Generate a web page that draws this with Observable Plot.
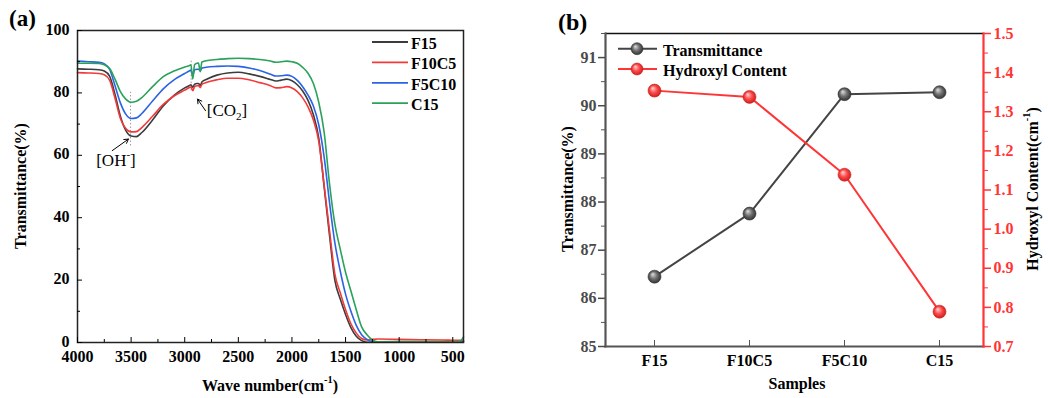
<!DOCTYPE html>
<html><head><meta charset="utf-8">
<script src="https://cdn.jsdelivr.net/npm/d3@7"></script>
<script src="https://cdn.jsdelivr.net/npm/@observablehq/plot@0.6"></script>
<style>
body{margin:0;background:#fff;}
#wrap{position:relative;width:1048px;height:398px;overflow:hidden;font-family:"Liberation Serif","Times New Roman",serif;}
#a,#b{position:absolute;top:0;}
#a{left:0px} #b{left:520px}
</style></head><body><div id="wrap"><div id="a"></div><div id="b"></div></div>
<script>
// ---------- Panel (a) data: FTIR spectra ----------
const seriesNames = ["F15", "F10C5", "F5C10", "C15"];
const seriesColors = ["#3c3c3c", "#f23a3a", "#2a63e6", "#2ba25a"];
const wavenumbers = [4000,3900,3800,3750,3700,3650,3600,3550,3500,3450,3400,3300,3200,3100,3000,2955,2942,2925,2908,2885,2872,2855,2840,2800,2700,2600,2500,2400,2300,2200,2150,2100,2050,2000,1950,1900,1850,1800,1750,1700,1650,1600,1550,1500,1450,1400,1350,1300,1250,1200,1000,800,600,450,420,400];
const tF15   = [87.7,87.6,87.4,87.0,85.3,79.5,72.5,68.0,66.2,66.0,67.3,71.3,75.8,79.2,81.6,82.4,82.6,81.8,82.8,83.0,83.0,82.4,83.5,84.3,85.7,86.4,86.6,86.1,85.3,84.3,83.8,84.1,84.4,83.9,82.6,80.6,77.6,73.0,65.5,50.0,34.5,20.0,14.0,9.0,4.8,2.0,0.6,0.1,0.1,0.2,0.3,0.3,0.3,0.3,0.3,0.3];
const tF10C5 = [86.5,86.4,86.2,85.8,84.0,78.3,71.8,68.6,67.5,67.6,68.9,72.5,76.3,79.0,80.9,81.7,81.9,80.7,82.0,82.3,82.3,81.7,82.7,83.3,84.2,84.7,84.7,84.2,83.3,82.3,81.6,81.7,82.0,81.6,80.4,78.4,75.5,71.3,64.5,50.5,36.0,22.0,16.0,10.5,6.0,3.0,1.3,0.8,1.0,1.1,1.0,0.9,0.8,0.7,0.7,0.7];
const tF5C10 = [90.2,90.0,89.8,89.3,87.5,82.3,76.8,73.2,71.8,72.0,73.4,77.4,81.3,84.2,86.2,87.1,87.3,85.6,87.4,87.6,87.6,87.1,87.9,88.2,88.5,88.6,88.5,88.0,87.2,86.0,85.4,85.5,85.7,85.3,84.0,82.0,79.3,75.8,69.8,59.5,45.0,32.0,23.0,15.5,10.0,5.5,2.5,1.0,0.3,0.2,0.2,0.2,0.2,0.2,0.2,0.2];
const tC15   = [89.5,89.5,89.4,89.0,87.8,84.4,80.4,78.0,77.0,77.3,78.5,82.0,85.2,87.0,88.3,88.8,89.0,84.5,89.0,89.5,89.6,86.8,89.9,90.3,90.7,91.0,91.1,91.0,90.7,90.2,89.8,90.0,90.2,90.0,89.5,88.2,86.3,83.0,77.0,67.5,51.0,38.0,30.0,22.5,16.5,10.5,5.0,2.5,0.8,0.2,0.2,0.2,0.2,0.3,0.8,1.8];
const xMajor = [4000,3500,3000,2500,2000,1500,1000,500];
const xMinor = [3750,3250,2750,2250,1750,1250,750];
const yMajor = [0,20,40,60,80,100];
const yMinor = [10,30,50,70,90];
// annotation anchors (data units)
const guideLines = [{x: 3505, y1: 63, y2: 80.2}, {x: 2940, y1: 80.7, y2: 90.4}];
const arrows = [{x1: 3676, y1: 61.5, x2: 3525, y2: 65.2}, {x1: 2806, y1: 74.3, x2: 2880, y2: 78.0}];

// ---------- Panel (b) data ----------
const samples = ["F15", "F10C5", "F5C10", "C15"];
const transmittance = [86.45, 87.76, 90.24, 90.28];
const hydroxyl = [1.354, 1.338, 1.139, 0.789];
const leftTicks = [85, 86, 87, 88, 89, 90, 91];
const leftMinor = [85.5, 86.5, 87.5, 88.5, 89.5, 90.5, 91.5];
const rightTicks = [0.7, 0.8, 0.9, 1.0, 1.1, 1.2, 1.3, 1.4, 1.5];
const rightMinor = [0.75, 0.85, 0.95, 1.05, 1.15, 1.25, 1.35, 1.45];

const FONT = "Liberation Serif, Times New Roman, serif";
const series = [tF15, tF10C5, tF5C10, tC15];
const spectra = [];
seriesNames.forEach((s, k) => wavenumbers.forEach((w, i) => spectra.push({s, w, T: series[k][i]})));

const plotA = Plot.plot({
  width: 520, height: 398,
  marginLeft: 77, marginRight: 57, marginTop: 30, marginBottom: 56,
  style: {fontFamily: FONT, fontSize: "16px", fontWeight: "bold", color: "#000", background: "none"},
  x: {domain: [4000, 400]},
  y: {domain: [0, 100]},
  color: {domain: seriesNames, range: seriesColors},
  marks: [
    Plot.ruleX(guideLines, {x: "x", y1: "y1", y2: "y2", stroke: "#999", strokeWidth: 1, strokeDasharray: "1.5,2"}),
    Plot.line(spectra, {x: "w", y: "T", z: "s", stroke: "s", strokeWidth: 1.6, curve: "monotone-x"}),
    Plot.arrow(arrows, {x1: "x1", y1: "y1", x2: "x2", y2: "y2", stroke: "#000", strokeWidth: 1, headLength: 7}),
    Plot.frame({stroke: "#222", strokeWidth: 1.5}),
    Plot.axisX({ticks: xMajor, tickSize: 5, dy: -5, tickFormat: () => "", label: null}),
    Plot.axisX({ticks: xMinor, tickSize: 3, dy: -3, tickFormat: () => "", label: null}),
    Plot.axisX({ticks: xMajor, tickSize: 0, tickPadding: 8, tickFormat: d3.format("d"), label: null}),
    Plot.axisY({ticks: yMajor, tickSize: 5, dx: 5, tickFormat: () => "", label: null}),
    Plot.axisY({ticks: yMinor, tickSize: 3, dx: 3, tickFormat: () => "", label: null}),
    Plot.axisY({ticks: yMajor, tickSize: 0, tickPadding: 8, dy: -1, tickFormat: d3.format("d"), label: null})
  ]
});
document.getElementById("a").appendChild(plotA);

function txt(svg, x, y, parts, o = {}) {
  const t = d3.select(svg).append("text")
    .attr("x", x).attr("y", y)
    .attr("font-family", FONT).attr("font-weight", "bold")
    .attr("font-size", o.size || 16).attr("fill", o.fill || "#000")
    .attr("text-anchor", o.anchor || "start")
    .attr("dominant-baseline", "central");
  if (o.rotate) t.attr("transform", `rotate(${o.rotate},${x},${y})`);
  if (o.normal) t.attr("font-weight", "normal");
  parts.forEach(p => {
    if (typeof p === "string") t.append("tspan").text(p);
    else {
      const ts = t.append("tspan").text(p.t).attr("font-size", (o.size || 16) * 0.65);
      ts.attr("baseline-shift", p.sup ? "super" : "sub");
    }
  });
  return t;
}

const svgA = plotA.tagName.toLowerCase() === "svg" ? plotA : plotA.querySelector("svg");
txt(svgA, 9, 18, ["(a)"], {size: 23});
txt(svgA, 20, 186, ["Transmittance(%)"], {anchor: "middle", rotate: -90});
txt(svgA, 270, 385, ["Wave number(cm", {t: "-1", sup: true}, ")"], {anchor: "middle"});
txt(svgA, 116, 160, ["[OH", {t: "-", sup: true}, "]"], {anchor: "middle", normal: true, size: 17});
txt(svgA, 227, 110, ["[CO", {t: "2", sup: false}, "]"], {anchor: "middle", normal: true, size: 17});
// legend (a)
seriesNames.forEach((s, i) => {
  const y = 42 + i * 20.4;
  d3.select(svgA).append("line").attr("x1", 372).attr("x2", 408).attr("y1", y).attr("y2", y)
    .attr("stroke", seriesColors[i]).attr("stroke-width", 1.8);
  txt(svgA, 411, y + 1, [s]);
});

// ---------- Panel (b) ----------
const toLeft = d3.scaleLinear([0.7, 1.5], [85, 91.5]);
const rows = samples.map((s, i) => ({s, t: transmittance[i], h: toLeft(hydroxyl[i])}));
const RED = "#ff3535";
const plotB = Plot.plot({
  width: 528, height: 398,
  marginLeft: 85, marginRight: 65, marginTop: 33, marginBottom: 52,
  style: {fontFamily: FONT, fontSize: "16px", fontWeight: "bold", color: "#000", background: "none"},
  x: {type: "point", domain: samples, padding: 0.5, insetRight: -5},
  y: {domain: [85, 91.5]},
  marks: [
    Plot.line(rows, {x: "s", y: "t", stroke: "#444", strokeWidth: 2}),
    Plot.line(rows, {x: "s", y: "h", stroke: RED, strokeWidth: 2}),
    Plot.dot(rows, {x: "s", y: "t", r: 6.5, fill: "url(#sphG)", stroke: "#333", strokeWidth: 0.6}),
    Plot.dot(rows, {x: "s", y: "h", r: 6.5, fill: "url(#sphR)", stroke: "#d02020", strokeWidth: 0.6}),
    Plot.frame({anchor: "top", stroke: "#111", strokeWidth: 1.5}),
    Plot.frame({anchor: "left", stroke: "#555", strokeWidth: 2.2}),
    Plot.frame({anchor: "bottom", stroke: "#555", strokeWidth: 2.2}),
    Plot.frame({anchor: "right", stroke: RED, strokeWidth: 2.2}),
    Plot.axisX({tickSize: 6, dy: -6, tickFormat: () => "", color: "#555", label: null}),
    Plot.axisX({tickSize: 0, tickPadding: 8, label: null}),
    Plot.axisY({ticks: leftTicks, tickSize: 7, tickPadding: 2, color: "#4a4a4a", strokeWidth: 1.5, tickFormat: d3.format("d"), label: null}),
    Plot.axisY({ticks: leftMinor, tickSize: 4, tickFormat: () => "", color: "#555", label: null}),
    Plot.axisY({anchor: "right", ticks: rightTicks.map(toLeft), tickSize: 7, tickPadding: 3, color: RED, strokeWidth: 1.5,
      tickFormat: d => d3.format(".1f")(toLeft.invert(d)), label: null}),
    Plot.axisY({anchor: "right", ticks: rightMinor.map(toLeft), tickSize: 4, tickFormat: () => "", color: RED, label: null})
  ]
});
document.getElementById("b").appendChild(plotB);
const svgB = plotB.tagName.toLowerCase() === "svg" ? plotB : plotB.querySelector("svg");
const defs = d3.select(svgB).insert("defs", ":first-child");
function grad(id, c0, c1, c2) {
  const g = defs.append("radialGradient").attr("id", id).attr("cx", "50%").attr("cy", "50%").attr("r", "55%").attr("fx", "35%").attr("fy", "30%");
  g.append("stop").attr("offset", "0%").attr("stop-color", c0);
  g.append("stop").attr("offset", "50%").attr("stop-color", c1);
  g.append("stop").attr("offset", "100%").attr("stop-color", c2);
}
grad("sphG", "#e0e0e0", "#707070", "#2a2a2a");
grad("sphR", "#ffd8d8", "#ff4a4a", "#c01a1a");

txt(svgB, 38, 22, ["(b)"], {size: 24});
txt(svgB, 47, 189, ["Transmittance(%)"], {anchor: "middle", rotate: -90});
txt(svgB, 512, 189, ["Hydroxyl Content(cm", {t: "-1", sup: true}, ")"], {anchor: "middle", rotate: -90});
txt(svgB, 277, 383, ["Samples"], {anchor: "middle"});
// legend (b)
[["Transmittance", "#444", "url(#sphG)", "#333"], ["Hydroxyl Content", RED, "url(#sphR)", "#d02020"]].forEach(([lab, c, f, sc], i) => {
  const y = 48.7 + i * 20.3;
  d3.select(svgB).append("line").attr("x1", 98).attr("x2", 137).attr("y1", y).attr("y2", y).attr("stroke", c).attr("stroke-width", 2);
  d3.select(svgB).append("circle").attr("cx", 117).attr("cy", y).attr("r", 6).attr("fill", f).attr("stroke", sc).attr("stroke-width", 0.6);
  txt(svgB, 143, y + 1, [lab]);
});
</script></body></html>
